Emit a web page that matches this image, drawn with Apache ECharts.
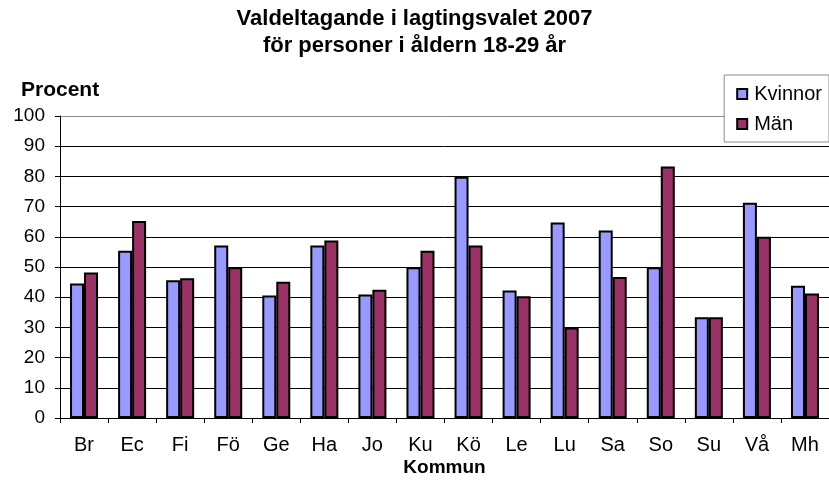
<!DOCTYPE html>
<html>
<head>
<meta charset="utf-8">
<script src="https://cdn.jsdelivr.net/npm/echarts@6/dist/echarts.min.js"></script>
<style>
  html, body { margin: 0; padding: 0; background: #fff; }
  #main { width: 829px; height: 495px; }
</style>
</head>
<body>
<div id="main"></div>
<script>
// data
var categories = ["Br", "Ec", "Fi", "Fö", "Ge", "Ha", "Jo", "Ku", "Kö", "Le", "Lu", "Sa", "So", "Su", "Vå", "Mh"];
var kvinnor = [44.5, 55.4, 45.6, 57.1, 40.6, 57.1, 40.9, 49.9, 79.9, 42.2, 64.7, 62.1, 49.9, 33.4, 71.3, 43.8];
var man = [48.2, 65.2, 46.3, 49.9, 45.1, 58.8, 42.5, 55.4, 57.1, 40.3, 30.0, 46.7, 83.3, 33.4, 60.0, 41.2];
var yTicks = [0, 10, 20, 30, 40, 50, 60, 70, 80, 90, 100];

var font = "'Liberation Sans', Arial, sans-serif";
var myChart = echarts.init(document.getElementById("main"));

// top line of the plot is the grey plot-area border
var gridColors = yTicks.map(function (v) { return v === 100 ? "#8c8c8c" : "#000"; });

var option = {
  backgroundColor: "#fff",
  animation: false,
  textStyle: { fontFamily: font, color: "#000" },
  title: [
    {
      text: "Valdeltagande i lagtingsvalet 2007\nför personer i åldern 18-29 år",
      left: "center",
      top: 0,
      textStyle: { fontFamily: font, fontSize: 22, fontWeight: "bold", lineHeight: 27, color: "#000" }
    },
    {
      text: "Procent",
      left: 21,
      top: 80,
      padding: 0,
      textStyle: { fontFamily: font, fontSize: 21, fontWeight: "bold", color: "#000" }
    }
  ],
  legend: {
    orient: "vertical",
    right: 0,
    top: 75,
    backgroundColor: "#fff",
    borderColor: "#8c8c8c",
    borderWidth: 1,
    padding: [9, 7, 8, 12],
    itemWidth: 10,
    itemHeight: 10,
    itemGap: 10,
    icon: "rect",
    itemStyle: { borderColor: "#000", borderWidth: 2 },
    textStyle: { fontFamily: font, fontSize: 20, color: "#000", padding: [0, 0, 0, 2] },
    data: ["Kvinnor", "Män"]
  },
  grid: { left: 60, right: 0, top: 116, bottom: 77 },
  xAxis: {
    type: "category",
    data: categories,
    name: "Kommun",
    nameLocation: "middle",
    nameGap: 40,
    nameMoveOverlap: false,
    nameTextStyle: { fontFamily: font, fontSize: 19, fontWeight: "bold", color: "#000" },
    axisLine: { lineStyle: { color: "#000", width: 1 } },
    axisTick: { show: true, length: 5, lineStyle: { color: "#000" } },
    axisLabel: { fontFamily: font, fontSize: 20, color: "#000", margin: 17 }
  },
  yAxis: {
    type: "value",
    min: 0,
    max: 100,
    interval: 10,
    axisLine: { show: true, lineStyle: { color: "#000", width: 1 } },
    axisTick: { show: true, length: 5, lineStyle: { color: "#000" } },
    axisLabel: { fontFamily: font, fontSize: 19, color: "#000", margin: 15 },
    splitLine: { show: true, lineStyle: { color: gridColors, width: 1 } }
  },
  series: [
    {
      name: "Kvinnor",
      type: "bar",
      data: kvinnor,
      barWidth: 14,
      barGap: "0%",
      itemStyle: { color: "#9999ff", borderColor: "#000", borderWidth: 2 }
    },
    {
      name: "Män",
      type: "bar",
      data: man,
      barWidth: 14,
      barGap: "0%",
      itemStyle: { color: "#993366", borderColor: "#000", borderWidth: 2 }
    }
  ]
};

myChart.setOption(option);
</script>
</body>
</html>
